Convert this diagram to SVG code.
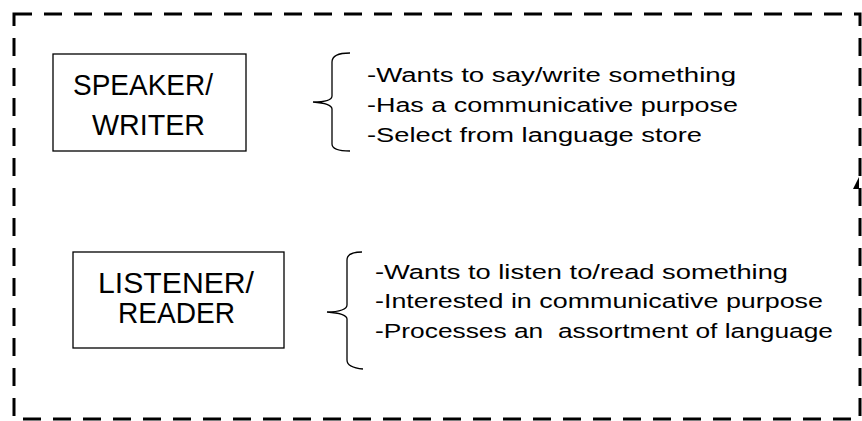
<svg xmlns="http://www.w3.org/2000/svg" width="862" height="421" viewBox="0 0 862 421">
<style>
.frame{fill:none;stroke:#000;stroke-width:3;stroke-dasharray:18 12}
.box{fill:#fff;stroke:#000;stroke-width:1.3}
.brace{fill:none;stroke:#000;stroke-width:1.3}
.lbl{font-family:"Liberation Sans",Arial,sans-serif;font-size:29px;fill:#000}
.txt{font-family:"Liberation Sans",Arial,sans-serif;font-size:19.5px;fill:#000}
.txt2{font-family:"Liberation Sans",Arial,sans-serif;font-size:20.5px;fill:#000}
</style>
<rect width="862" height="421" fill="#fff"/>
<rect class="frame" x="14" y="14" width="846" height="405"/>
<polygon points="859,177 853,189 859,189" fill="#000"/>
<g id="speaker">
<rect class="box" x="53" y="54" width="193" height="97"/>
<text class="lbl" x="73" y="95" textLength="140" lengthAdjust="spacingAndGlyphs">SPEAKER/</text>
<text class="lbl" x="92" y="135" textLength="113" lengthAdjust="spacingAndGlyphs">WRITER</text>
</g>
<g id="listener">
<rect class="box" x="73" y="252" width="211" height="96"/>
<text class="lbl" x="98" y="293" textLength="156" lengthAdjust="spacingAndGlyphs">LISTENER/</text>
<text class="lbl" x="118" y="323" textLength="117" lengthAdjust="spacingAndGlyphs">READER</text>
</g>
<g id="speaker-notes">
<text class="txt" x="367" y="82" textLength="369" lengthAdjust="spacingAndGlyphs">-Wants to say/write something</text>
<text class="txt" x="367" y="112" textLength="371" lengthAdjust="spacingAndGlyphs">-Has a communicative purpose</text>
<text class="txt" x="367" y="142" textLength="335" lengthAdjust="spacingAndGlyphs">-Select from language store</text>
</g>
<g id="listener-notes">
<text class="txt2" x="375" y="279" textLength="413" lengthAdjust="spacingAndGlyphs">-Wants to listen to/read something</text>
<text class="txt2" x="375" y="308" textLength="448" lengthAdjust="spacingAndGlyphs">-Interested in communicative purpose</text>
<text class="txt2" x="375" y="338" textLength="458" lengthAdjust="spacingAndGlyphs" xml:space="preserve">-Processes an  assortment of language</text>
</g>
<g id="connectors">
<path class="brace" d="M350,53 C338,53 332,56 332,62 L332,96 C332,100 325,102 313,102 C325,103 332,105 332,109 L332,144 C332,149 338,151 350,151"/>
<path class="brace" d="M362,252 C352,252 347,255 347,260 L347,305 C347,309 340,312 327,312 C340,313 347,315 347,319 L347,360 C347,365 352,368 363,369"/>
</g>
</svg>
